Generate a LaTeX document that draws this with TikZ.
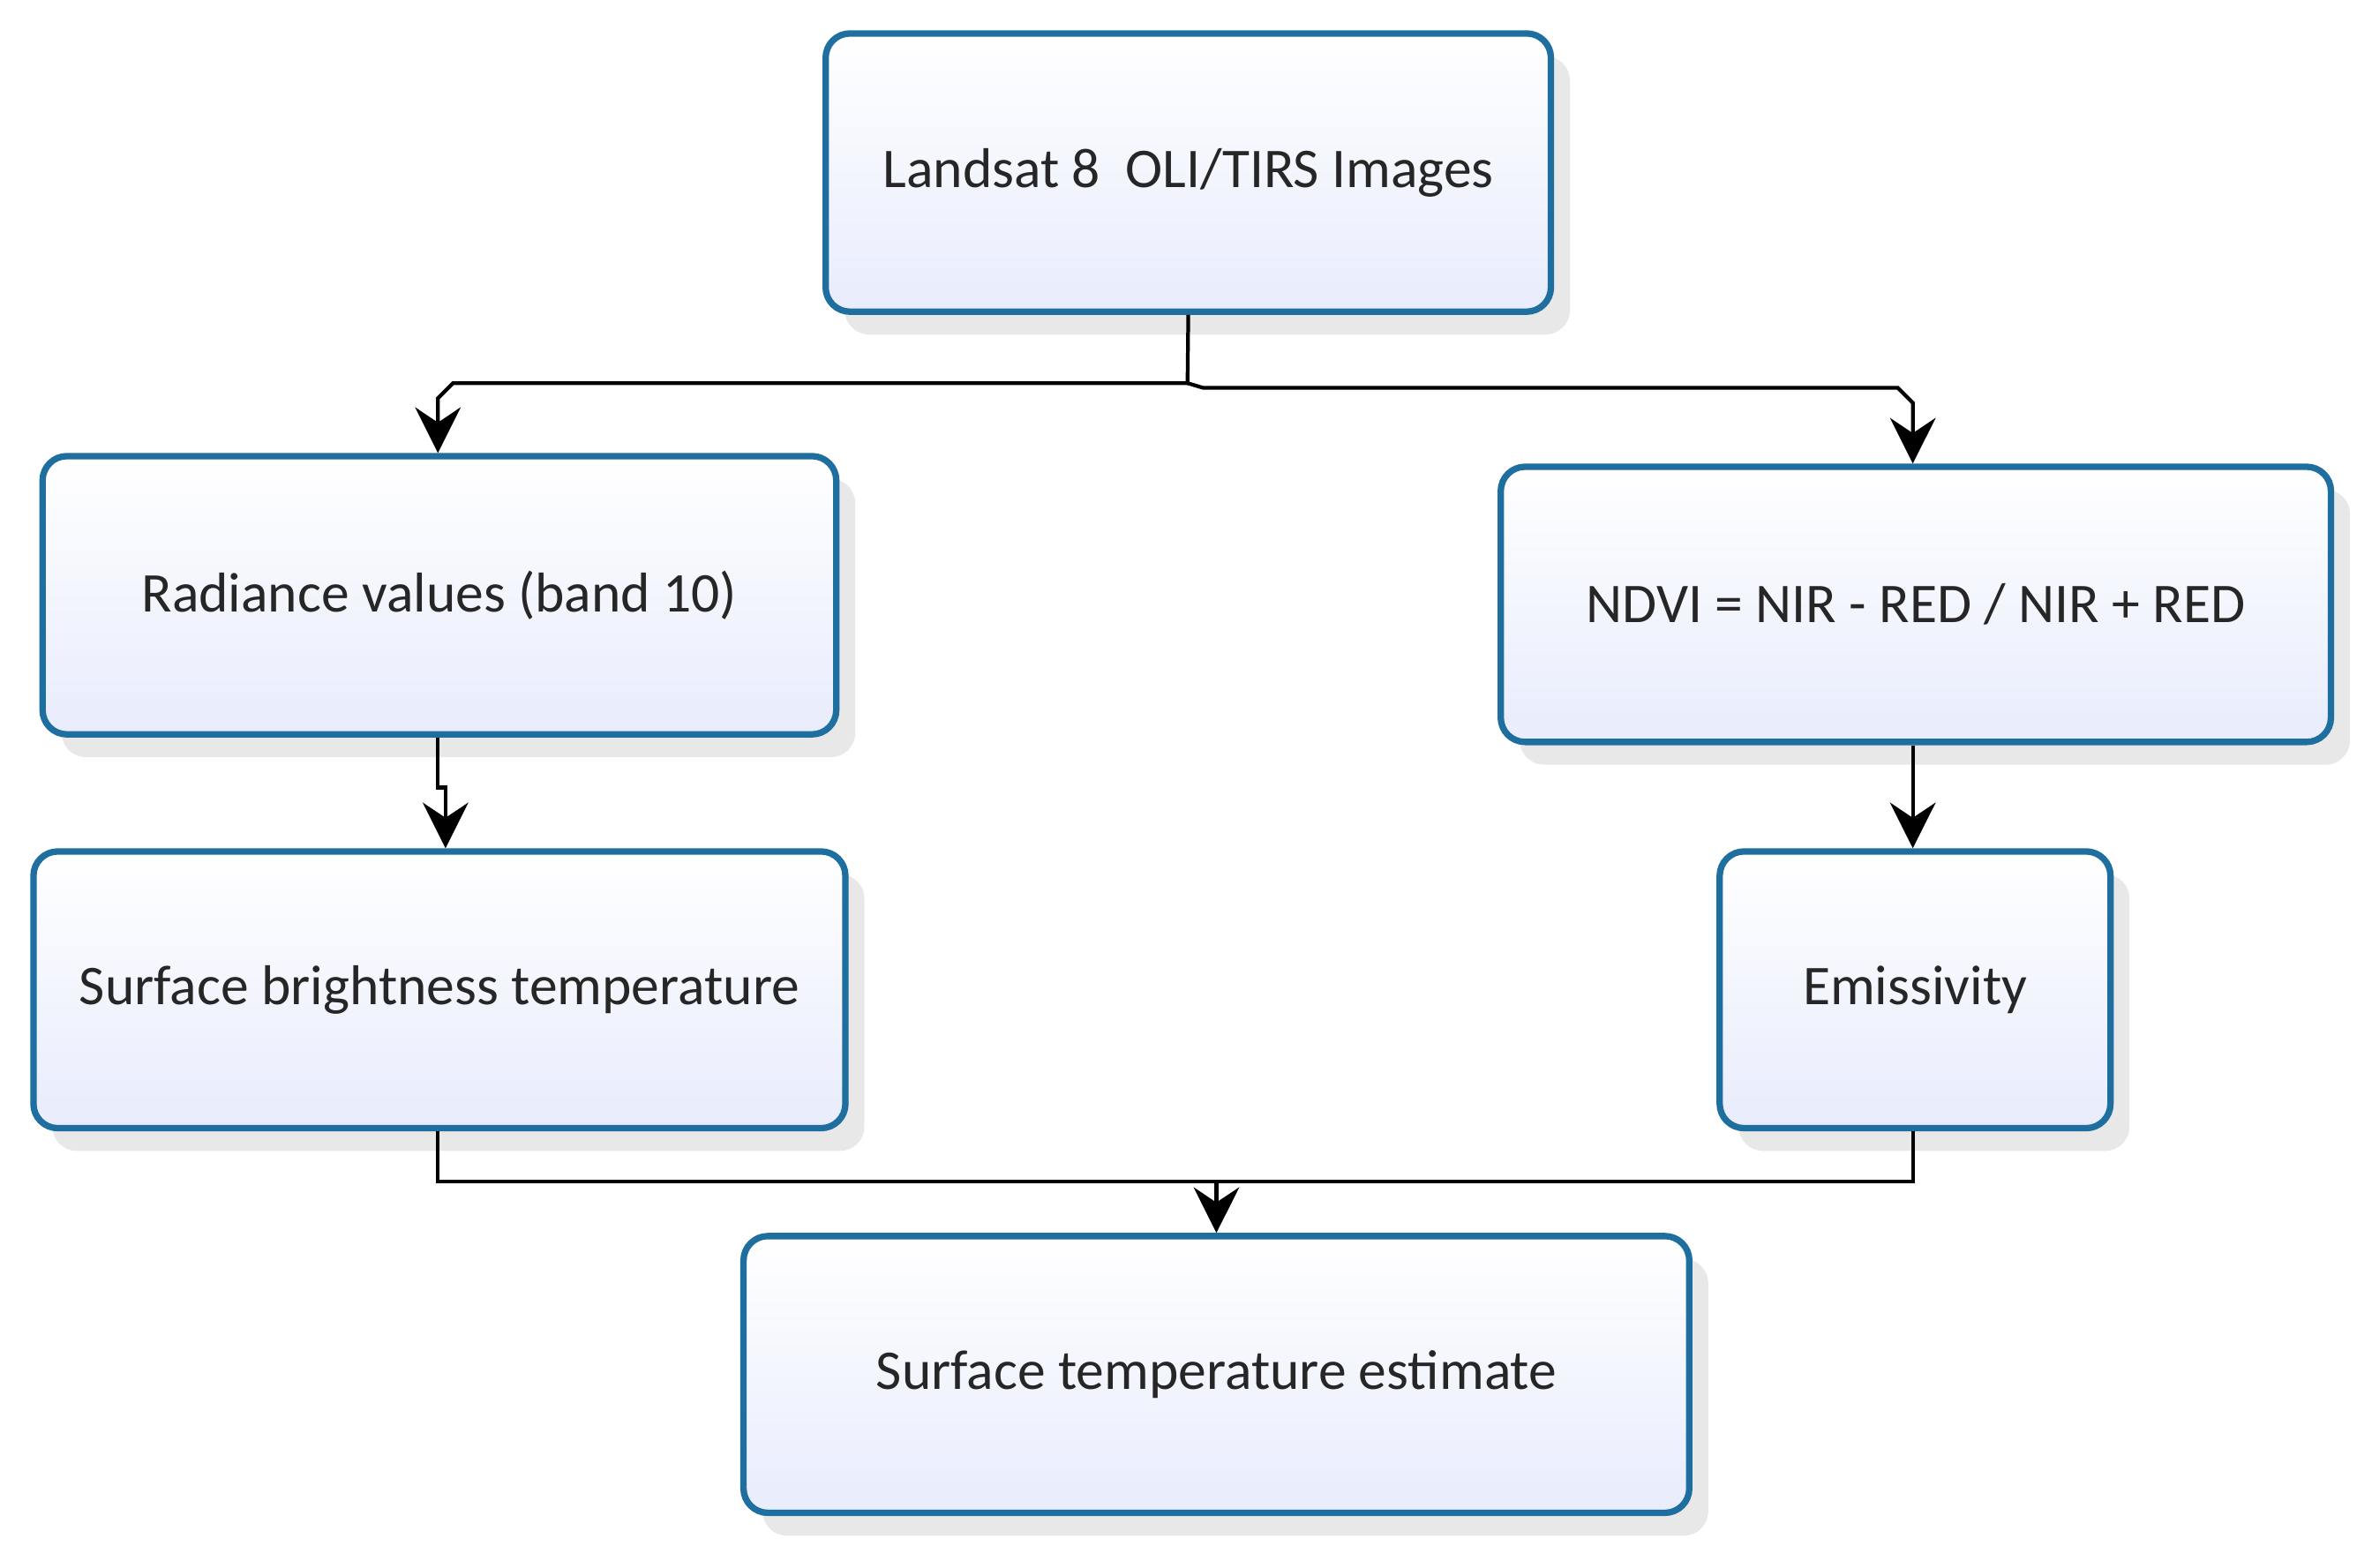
\documentclass[tikz,border=0pt]{standalone}
\usepackage{fontspec}
\setmainfont{Carlito}
\usetikzlibrary{shadows,arrows.meta}
\definecolor{bord}{RGB}{31,110,160}
\definecolor{boxbot}{RGB}{232,236,252}
\tikzset{
  bx/.style={draw=bord, line width=2.4pt, rounded corners=0.32cm, top color=white, bottom color=boxbot,
    drop shadow={shadow xshift=0.25cm, shadow yshift=-0.3cm, opacity=0.18, fill=gray},
    font=\fontsize{21}{24}\selectfont, text=black!85},
  ln/.style={line width=1.4pt, -{Stealth[length=0.6cm,width=0.6cm,inset=0.2cm]}},
  pl/.style={line width=1.4pt}
}
\begin{document}
\begin{tikzpicture}[x=0.02cm,y=-0.02cm]
\useasboundingbox (0,0) rectangle (1560,1031);
\node[bx, minimum width=477*0.02cm, minimum height=183*0.02cm] (top) at (781.5,113.5) {Landsat 8\ \ OLI/TIRS Images};
\node[bx, minimum width=522*0.02cm, minimum height=183*0.02cm] (rad) at (289,391.5) {Radiance values (band 10)};
\node[bx, minimum width=546*0.02cm, minimum height=181*0.02cm] (ndvi) at (1260,397.5) {NDVI = NIR - RED / NIR + RED};
\node[bx, minimum width=534*0.02cm, minimum height=182*0.02cm] (sbt) at (289,651) {Surface brightness temperature};
\node[bx, minimum width=257*0.02cm, minimum height=182*0.02cm] (emi) at (1259.5,651) {Emissivity};
\node[bx, minimum width=622*0.02cm, minimum height=182*0.02cm] (ste) at (800,904) {Surface temperature estimate};
\coordinate (j1) at (781,252);
\draw[ln] (top.south) -- (j1) -- (298,252) -- (288,262) -- (rad.north -| 288,0);
\draw[ln] (j1) -- (791,255) -- (1248,255) -- (1258,265) -- (ndvi.north -| 1258,0);
\draw[ln] (rad.south -| 288,0) -- (288,518) -- (293,518) -- (sbt.north -| 293,0);
\draw[ln] (ndvi.south -| 1258,0) -- (emi.north -| 1258,0);
\coordinate (j2) at (800,777);
\draw[pl] (sbt.south -| 288,0) -- (288,777) -- (1258,777) -- (emi.south -| 1258,0);
\draw[ln] (j2) -- (ste.north);
\end{tikzpicture}
\end{document}
